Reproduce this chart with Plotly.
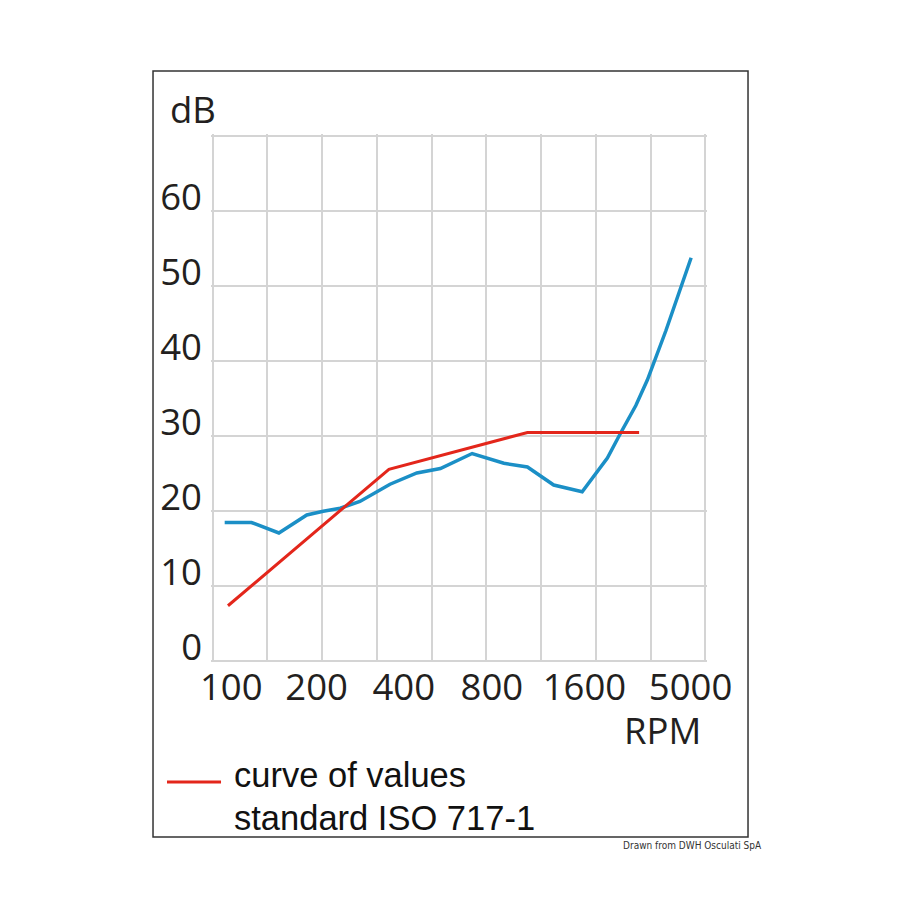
import plotly.graph_objects as go

# Log-like RPM axis drawn as equally spaced grid columns (0..9)
grid_cols = list(range(10))
tick_pos = [0.34, 1.9, 3.49, 5.1, 6.79, 8.73]
tick_text = ["100", "200", "400", "800", "1600", "5000"]

db_ticks = [0, 10, 20, 30, 40, 50, 60, 70]
db_text = ["0", "10", "20", "30", "40", "50", "60", ""]

# Measured curve (blue)
meas_x = [0.22, 0.71, 1.21, 1.72, 2.02, 2.33, 2.69, 3.24, 3.73, 4.16, 4.74,
          5.32, 5.75, 6.23, 6.75, 7.21, 7.45, 7.73, 7.94, 8.28, 8.74]
meas_y = [18.4, 18.4, 17.0, 19.4, 19.9, 20.3, 21.2, 23.5, 25.0, 25.6, 27.6,
          26.3, 25.8, 23.4, 22.5, 27.0, 30.3, 34.0, 37.4, 44.0, 53.7]

# ISO 717-1 reference curve (red)
iso_x = [0.28, 3.22, 5.75, 7.79]
iso_y = [7.3, 25.5, 30.4, 30.4]

RED = "#e3261b"
BLUE = "#1b8fc6"

fig = go.Figure()
fig.add_trace(go.Scatter(x=meas_x, y=meas_y, mode="lines",
                         line=dict(color=BLUE, width=3.5),
                         showlegend=False, hoverinfo="skip"))
fig.add_trace(go.Scatter(x=iso_x, y=iso_y, mode="lines",
                         line=dict(color=RED, width=3),
                         name="curve of values standard ISO 717-1",
                         showlegend=False))

tick_font = dict(family="Open Sans", size=36.5, color="#231f20")
legend_font = dict(family="Liberation Sans", size=34.5, color="#111111")

fig.update_layout(
    width=900, height=900,
    margin=dict(l=211, r=193, t=134, b=238),
    paper_bgcolor="white", plot_bgcolor="white",
    xaxis=dict(range=[-0.03, 9.03], tickvals=tick_pos, ticktext=tick_text,
               showgrid=False, zeroline=False, showline=False, ticks="",
               tickfont=tick_font, ticklabelstandoff=0,
               minor=dict(tickvals=grid_cols, showgrid=True,
                          gridcolor="#d4d4d4", gridwidth=2, ticks="")),
    yaxis=dict(range=[-0.2, 70.2], tickvals=db_ticks, ticktext=db_text,
               showgrid=True, gridcolor="#d4d4d4", gridwidth=2,
               zeroline=False, showline=False, ticks="",
               tickfont=tick_font, ticklabelposition="outside top",
               ticklabelshift=12, ticklabelstandoff=8),
    showlegend=False,
    shapes=[
        dict(type="rect", xref="paper", yref="paper",
             x0=-0.1169, x1=1.0827, y0=-0.3314, y1=1.1193,
             line=dict(color="#333333", width=1.5), layer="below"),
        # legend swatch
        dict(type="line", xref="paper", yref="paper",
             x0=-0.0887, x1=0.0202, y0=-0.2273, y1=-0.2273,
             line=dict(color=RED, width=3)),
    ],
    annotations=[
        dict(text="dB", xref="paper", yref="paper", x=-0.0867, y=1.0473,
             xanchor="left", yanchor="middle", showarrow=False,
             font=dict(family="Open Sans", size=36.5, color="#231f20")),
        dict(text="RPM", xref="paper", yref="paper", x=0.9919, y=-0.128,
             xanchor="right", yanchor="middle", showarrow=False,
             font=dict(family="Open Sans", size=36.5, color="#231f20")),
        dict(text="curve of values", xref="paper", yref="paper",
             x=0.0423, y=-0.214, xanchor="left", yanchor="middle",
             showarrow=False, font=legend_font),
        dict(text="standard ISO 717-1", xref="paper", yref="paper",
             x=0.0423, y=-0.2955, xanchor="left", yanchor="middle",
             showarrow=False, font=legend_font),
        dict(text="Drawn from DWH Osculati SpA", xref="paper", yref="paper",
             x=1.1149, y=-0.3466, xanchor="right", yanchor="middle",
             showarrow=False,
             font=dict(family="DejaVu Sans Condensed, Liberation Sans",
                       size=10, color="#333333")),
    ],
)

fig.write_html("out.html")
